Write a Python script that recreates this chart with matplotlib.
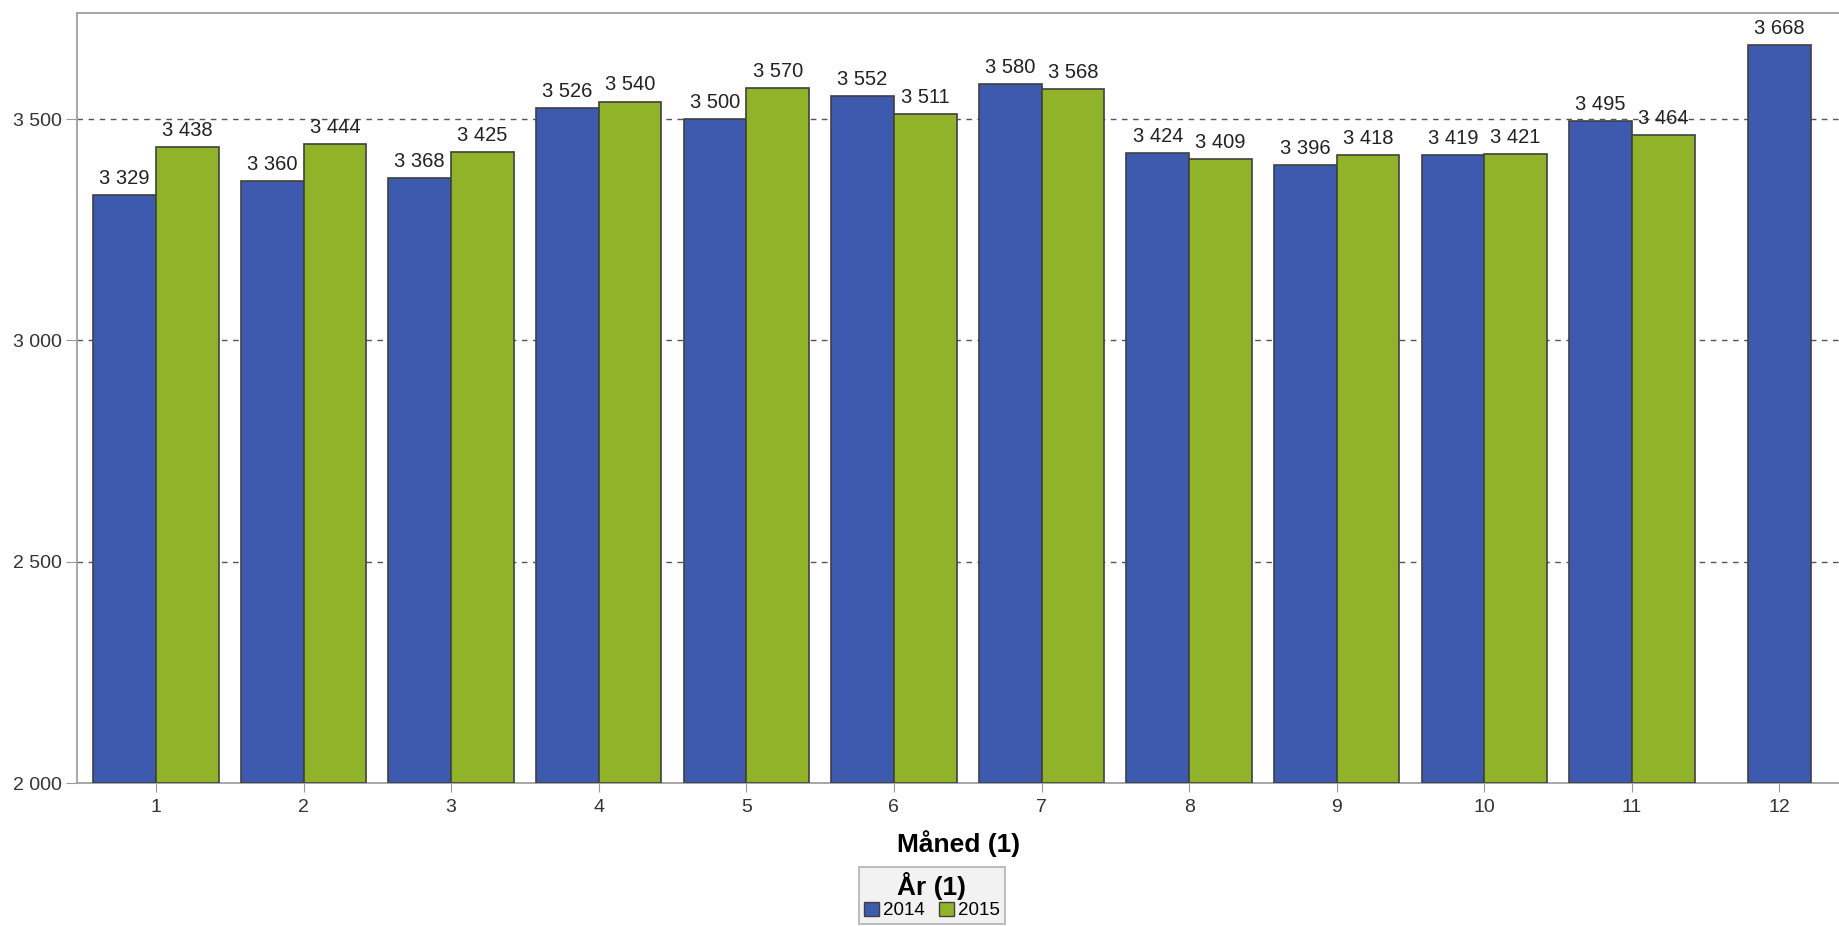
import numpy as np
import matplotlib
matplotlib.use('Agg')
import matplotlib.pyplot as plt
from matplotlib.patches import Patch

plt.rcParams['font.family'] = ['Liberation Sans', 'DejaVu Sans']

months = ['1', '2', '3', '4', '5', '6', '7', '8', '9', '10', '11', '12']
values_2014 = [3329, 3360, 3368, 3526, 3500, 3552, 3580, 3424, 3396, 3419, 3495, 3668]
values_2015 = [3438, 3444, 3425, 3540, 3570, 3511, 3568, 3409, 3418, 3421, 3464]
years = ['2014', '2015']
colors = ['#3d5aae', '#91b32a']


def fmt(v):
    # thousands separated by a space
    return '{:,}'.format(v).replace(',', ' ')


fig = plt.figure(figsize=(18.4, 9.26), dpi=100)
ax = fig.add_axes([77 / 1840, 1 - 783 / 926, 1 - 77 / 1840, (783 - 13) / 926])

w = 0.425
x = np.arange(len(months))
edge = '#404040'
label_kw = dict(ha='center', va='bottom', fontsize=14.5, color='#222222')

for i, v in enumerate(values_2014):
    # month 12 only has one year, so centre it on the tick
    xc = i - w / 2 if i < len(values_2015) else i
    ax.bar(xc, v - 2000, bottom=2000, width=w, color=colors[0], edgecolor=edge, linewidth=1.2, zorder=3)
    ax.text(xc, v + 16, fmt(v), zorder=4, **label_kw)
for i, v in enumerate(values_2015):
    xc = i + w / 2
    ax.bar(xc, v - 2000, bottom=2000, width=w, color=colors[1], edgecolor=edge, linewidth=1.2, zorder=3)
    ax.text(xc, v + 16, fmt(v), zorder=4, **label_kw)

ax.set_xlim(-0.535, 11.41)
ax.set_ylim(2000, 3740)
ax.set_xticks(x)
ax.set_xticklabels(months, fontsize=14, color='#333333')
ax.set_yticks([2000, 2500, 3000, 3500])
ax.set_yticklabels([fmt(t) for t in [2000, 2500, 3000, 3500]], fontsize=14, color='#333333')
ax.tick_params(axis='y', length=8, color='#999999', pad=3)
ax.tick_params(axis='x', length=6.5, color='#999999', pad=5)

for y in [2500, 3000, 3500]:
    ax.axhline(y, color='#555555', linestyle=(0, (4, 4)), linewidth=1, zorder=1)

for s in ['left', 'bottom', 'top']:
    ax.spines[s].set_color('#a0a0a0')
    ax.spines[s].set_linewidth(1.3)
ax.spines['right'].set_visible(False)

ax.set_xlabel('Måned (1)', fontsize=19, fontweight='bold', labelpad=10)

handles = [Patch(facecolor=c, edgecolor=edge, label=yr) for c, yr in zip(colors, years)]
leg = fig.legend(handles=handles, title='År (1)', ncol=2, loc='upper center',
                 bbox_to_anchor=(932 / 1840, 1 - 867 / 926), fontsize=13.5,
                 title_fontproperties={'weight': 'bold', 'size': 19},
                 frameon=True, fancybox=False, handlelength=0.8, handleheight=0.8,
                 handletextpad=0.2, columnspacing=0.8, borderpad=0.25, labelspacing=0.1,
                 borderaxespad=0)
leg.get_frame().set_facecolor('#efefef')
leg.get_frame().set_edgecolor('#a0a0a0')
leg.get_frame().set_linewidth(1.2)

fig.savefig('out.png', dpi=100)
